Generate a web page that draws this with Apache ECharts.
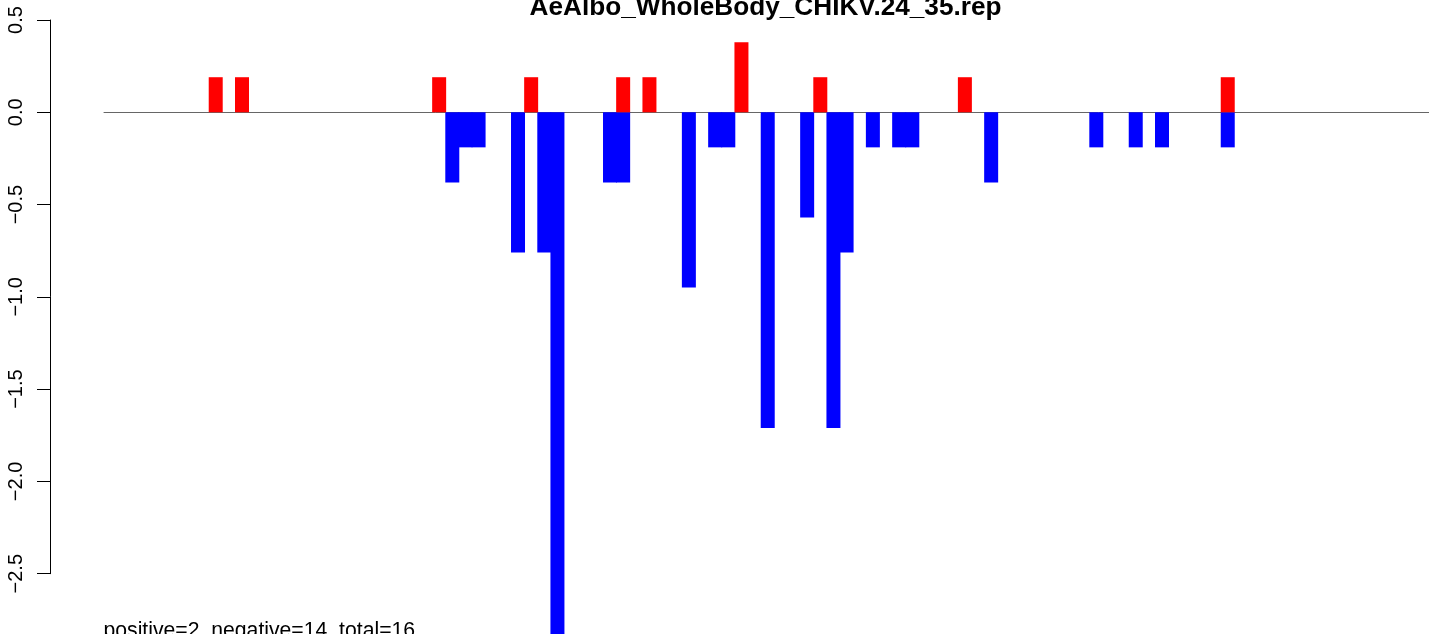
<!DOCTYPE html>
<html>
<head>
<meta charset="utf-8">
<script src="https://cdn.jsdelivr.net/npm/echarts@6/dist/echarts.min.js"></script>
<style>
html,body{margin:0;padding:0;background:#fff;}
#chart{width:1429px;height:634px;}
</style>
</head>
<body>
<div id="chart"></div>
<script>
// ---- data ----
const slotCount = 102;
const redSlots  = [8, 10, 25, 32, 39, 41, 48, 54, 65, 85];
const redValues = [0.19, 0.19, 0.19, 0.19, 0.19, 0.19, 0.38, 0.19, 0.19, 0.19];
const blueSlots  = [26, 27, 28, 31, 33, 34, 38, 39, 44, 46, 47, 50, 53, 55, 56, 58, 60, 61, 67, 75, 78, 80, 85];
const blueValues = [-0.38, -0.19, -0.19, -0.76, -0.76, -2.85, -0.38, -0.38, -0.95, -0.19, -0.19, -1.71, -0.57, -1.71, -0.76, -0.19, -0.19, -0.19, -0.38, -0.19, -0.19, -0.19, -0.19];
const yTicks = [-2.5, -2.0, -1.5, -1.0, -0.5, 0.0, 0.5];
const titleText = 'AeAlbo_WholeBody_CHIKV.24_35.rep';
const noteText = 'positive=2, negative=14, total=16';

// ---- build series data ----
const categories = [];
for (let i = 0; i < slotCount; i++) categories.push(String(i + 1));
function fill(slots, values) {
  const arr = new Array(slotCount).fill(null);
  slots.forEach((s, k) => { arr[s] = values[k]; });
  return arr;
}
const redData = fill(redSlots, redValues);
const blueData = fill(blueSlots, blueValues);

const chart = echarts.init(document.getElementById('chart'), null, {renderer: 'canvas'});
chart.setOption({
  animation: false,
  backgroundColor: '#ffffff',
  title: [
    {
      text: titleText,
      left: 765.5,
      top: -5,
      padding: 0,
      textAlign: 'center',
      textStyle: {fontFamily: 'Liberation Sans', fontWeight: 'bold', fontSize: 26.2, color: '#000'}
    },
    {
      text: noteText,
      left: 103.5,
      top: 620.5,
      padding: 0,
      textStyle: {fontFamily: 'Liberation Sans', fontWeight: 'normal', fontSize: 21.2, color: '#000'}
    }
  ],
  grid: {left: 104, right: -15.6, top: 20, bottom: 60.3, containLabel: false, outerBoundsMode: 'none'},
  xAxis: {
    type: 'category',
    data: categories,
    boundaryGap: true,
    axisLine: {show: true, onZero: true, lineStyle: {color: '#666', width: 1}},
    axisTick: {show: false},
    axisLabel: {show: false},
    splitLine: {show: false}
  },
  yAxis: {
    type: 'value',
    min: yTicks[0],
    max: yTicks[yTicks.length - 1],
    interval: 0.5,
    offset: 54,
    axisLine: {show: true, lineStyle: {color: '#000', width: 1}},
    axisTick: {show: true, length: 13, lineStyle: {color: '#000', width: 1}},
    splitLine: {show: false},
    axisLabel: {
      rotate: 90,
      margin: 24,
      fontFamily: 'Liberation Sans',
      fontSize: 20,
      color: '#000',
      formatter: v => v.toFixed(1).replace('-', '\u2212')
    }
  },
  series: [
    {
      name: 'negative',
      type: 'bar',
      data: blueData,
      barWidth: 14,
      barGap: '-100%',
      clip: false,
      itemStyle: {color: '#0000ff'},
      z: 2
    },
    {
      name: 'positive',
      type: 'bar',
      data: redData,
      barWidth: 14,
      barGap: '-100%',
      clip: false,
      itemStyle: {color: '#ff0000'},
      z: 3
    }
  ]
});
</script>
</body>
</html>
